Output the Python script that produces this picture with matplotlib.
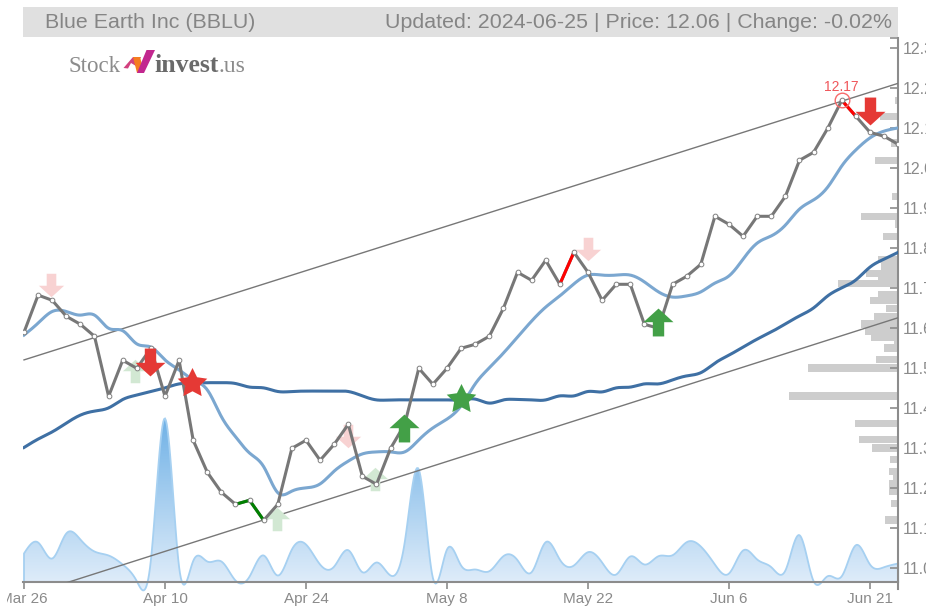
import numpy as np
import matplotlib
matplotlib.use("Agg")
import matplotlib.pyplot as plt
from matplotlib.path import Path
from matplotlib.patches import Polygon, Rectangle
from matplotlib.colors import LinearSegmentedColormap
from matplotlib.transforms import Bbox

plt.rcParams['font.family'] = ['Liberation Sans', 'DejaVu Sans']

date_labels = ["Mar 26", "Apr 10", "Apr 24", "May 8", "May 22", "Jun 6", "Jun 21"]
date_index = [0, 10, 20, 30, 40, 50, 60]
price_ticks = [12.3, 12.2, 12.1, 12.0, 11.9, 11.8, 11.7, 11.6, 11.5, 11.4, 11.3, 11.2, 11.1, 11.0]

price = [11.59, 11.683, 11.67, 11.63, 11.61, 11.58, 11.43, 11.52, 11.50, 11.55, 11.43, 11.52, 11.32,
         11.24, 11.19, 11.16, 11.17, 11.12, 11.16, 11.30, 11.32, 11.27, 11.31, 11.36, 11.23, 11.21,
         11.30, 11.36, 11.50, 11.46, 11.50, 11.55, 11.56, 11.58, 11.65, 11.74, 11.72, 11.77, 11.71,
         11.79, 11.74, 11.67, 11.71, 11.71, 11.61, 11.60, 11.71, 11.73, 11.76, 11.88, 11.86, 11.83,
         11.88, 11.88, 11.93, 12.02, 12.04, 12.10, 12.17, 12.13, 12.09, 12.08, 12.06]
ma_short = [11.583, 11.613, 11.642, 11.642, 11.633, 11.633, 11.60, 11.594, 11.561, 11.553, 11.521,
            11.496, 11.471, 11.446, 11.379, 11.329, 11.288, 11.254, 11.189, 11.193, 11.201, 11.211,
            11.243, 11.268, 11.286, 11.291, 11.291, 11.291, 11.321, 11.351, 11.373, 11.406, 11.461,
            11.501, 11.538, 11.578, 11.618, 11.653, 11.681, 11.711, 11.733, 11.733, 11.733, 11.733,
            11.716, 11.691, 11.678, 11.681, 11.691, 11.713, 11.731, 11.773, 11.813, 11.831, 11.858,
            11.898, 11.921, 11.953, 12.006, 12.046, 12.076, 12.093, 12.101]
ma_long = [11.302, 11.323, 11.341, 11.363, 11.383, 11.393, 11.401, 11.422, 11.433, 11.442, 11.451,
           11.461, 11.463, 11.464, 11.464, 11.462, 11.453, 11.451, 11.442, 11.442, 11.443, 11.443,
           11.443, 11.442, 11.431, 11.421, 11.421, 11.421, 11.421, 11.421, 11.421, 11.421, 11.423,
           11.413, 11.421, 11.422, 11.421, 11.421, 11.431, 11.431, 11.442, 11.441, 11.451, 11.453,
           11.461, 11.461, 11.471, 11.481, 11.489, 11.513, 11.533, 11.553, 11.573, 11.591, 11.611,
           11.631, 11.651, 11.681, 11.701, 11.721, 11.753, 11.773, 11.790]
volume = [28.5, 39.5, 23.5, 48.5, 42.5, 30.5, 26.5, 17.5, 0.8, 22, 163.5, 15, 21, 20.5, 20.5, 1.5,
          5.5, 26.5, 6.5, 32.5, 37.5, 17.5, 15.5, 31.8, 9.8, 19.5, 6.5, 39.5, 112.5, 4, 32.5, 16.5,
          12.5, 10.8, 25.8, 21.8, 9.8, 39.8, 22.5, 16.5, 29.8, 19.5, 7.5, 25.5, 17.5, 25.8, 26.8, 39.8,
          35.5, 17.5, 8.5, 31.5, 22.5, 14.8, 11.5, 46.8, 0.8, 5.8, 5.8, 36.8, 17.5, 14.8, 18.5]

profile_price = [12.17, 12.13, 12.063, 12.02, 11.93, 11.88, 11.861, 11.83, 11.772, 11.756, 11.738,
                 11.726, 11.712, 11.683, 11.67, 11.65, 11.63, 11.611, 11.592, 11.578, 11.567, 11.551,
                 11.522, 11.501, 11.431, 11.362, 11.322, 11.301, 11.272, 11.242, 11.227, 11.211,
                 11.193, 11.162, 11.121]
profile_size = [3, 18, 7, 23, 6, 37, 3, 15, 20, 17, 32, 20, 60, 20, 28, 12, 24, 37, 33, 27, 4, 14, 22,
                90, 109, 43, 39, 26, 8, 9, 5, 9, 9, 7, 13]

trend_up_x, trend_up_y = [0, 62], [11.521, 12.2125]
trend_low_x, trend_low_y = [3.03, 62], [10.964, 11.6265]

down_light_x, down_light_y = [1.91, 22.98, 40], [11.708, 11.331, 11.798]
up_light_x, up_light_y = [7.9, 17.94, 24.9], [11.493, 11.123, 11.223]
down_x, down_y = [8.94, 60], [11.516, 12.143]
up_x, up_y = [26.95, 44.96], [11.351, 11.616]
star_red_x, star_red_y = [11.95], [11.463]
star_green_x, star_green_y = [30.97], [11.423]
red_segments = [38, 58]
green_segments = [15, 16]
peak_index = 58

W, H = 926, 608
fig = plt.figure(figsize=(W / 100, H / 100), dpi=100, facecolor='white')
L, R, T, B = 23.0, 898.0, 38.0, 582.0
pos = [L / W, 1 - B / H, (R - L) / W, (B - T) / H]
xlim = ((L - 24) / 14.1, (R - 24) / 14.1)
ylim = (12.42075 - B / 400, 12.42075 - T / 400)
idx = np.arange(len(price))


def natural_spline(x, y, n=16):
    x, y = np.asarray(x, float), np.asarray(y, float)
    m = len(x)
    h = np.diff(x)
    A = np.zeros((m, m))
    b = np.zeros(m)
    A[0, 0] = A[-1, -1] = 1
    for i in range(1, m - 1):
        A[i, i - 1], A[i, i], A[i, i + 1] = h[i - 1], 2 * (h[i - 1] + h[i]), h[i]
        b[i] = 6 * ((y[i + 1] - y[i]) / h[i] - (y[i] - y[i - 1]) / h[i - 1])
    s = np.linalg.solve(A, b)
    xs = np.linspace(x[0], x[-1], (m - 1) * n + 1)
    k = np.clip(np.searchsorted(x, xs) - 1, 0, m - 2)
    t1, t0 = x[k + 1] - xs, xs - x[k]
    ys = (s[k] * t1 ** 3 + s[k + 1] * t0 ** 3) / (6 * h[k]) + (y[k] / h[k] - s[k] * h[k] / 6) * t1 + (
        y[k + 1] / h[k] - s[k + 1] * h[k] / 6) * t0
    return xs, ys


# volume layer
vax = fig.add_axes(pos, frameon=False)
vx, vy = natural_spline(idx, volume)
cmap = LinearSegmentedColormap.from_list('v', ['#e8f1fb', '#6fb1e6'])
grad = np.linspace(0, 1, 256).reshape(-1, 1)
im = vax.imshow(grad, extent=(xlim[0], xlim[1], -14, 165), origin='lower', aspect='auto', cmap=cmap, zorder=1)
poly = Polygon(np.column_stack([np.r_[vx, vx[-1], vx[0]], np.r_[vy, 0, 0]]), closed=True,
               transform=vax.transData, fill=False, edgecolor='#a6d0f1', linewidth=1.3, clip_on=False, zorder=2)
vax.add_patch(poly)
im.set_clip_box(fig.bbox)
im.set_clip_path(poly)
vax.set_xlim(xlim)
vax.set_ylim(0, B - T)
vax.axis('off')

# volume by price layer
pax = fig.add_axes(pos, frameon=False)
pax.barh(profile_price, profile_size, height=0.018, color='#cdcdcd', linewidth=0)
pax.set_xlim(R - L, 0)
pax.set_ylim(ylim)
pax.axis('off')

# main layer
ax = fig.add_axes(pos, facecolor='none')
ax.set_xlim(xlim)
ax.set_ylim(ylim)

ax.plot(trend_up_x, trend_up_y, color='#777777', lw=1.0, zorder=3)
ax.plot(trend_low_x, trend_low_y, color='#777777', lw=1.0, zorder=3)
ax.plot(*natural_spline(idx, ma_long), color='#34689f', lw=2.2, alpha=0.95, zorder=4)
ax.plot(*natural_spline(idx, ma_short), color='#7ba7d0', lw=2.2, zorder=4)

arrow = Path([(-.38, .93), (.38, .93), (.38, -.02), (1, -.02), (0, -.93), (-1, -.02), (-.38, -.02), (-.38, .93), (-.38, .93)],
             [1, 2, 2, 2, 2, 2, 2, 2, 79])
arrow_up = Path(arrow.vertices * [1, -1], arrow.codes)
theta = np.pi / 2 + np.arange(10) * np.pi / 5
radius = np.where(np.arange(10) % 2 == 0, 1.0, 0.5)
star_xy = np.column_stack([radius * np.cos(theta), radius * np.sin(theta)])
star = Path(np.vstack([star_xy, star_xy[:1]]), closed=True)
ax.scatter(down_light_x, down_light_y, marker=arrow, s=330, color='#f8d2d2', linewidths=0, zorder=3.5)
ax.scatter(up_light_x, up_light_y, marker=arrow_up, s=330, color='#d2e8d3', linewidths=0, zorder=3.5)

ax.plot(idx, price, color='#777777', lw=2.2, zorder=5, solid_joinstyle='round')
for i in red_segments:
    ax.plot(idx[i:i + 2], price[i:i + 2], color='#ff0000', lw=2.2, zorder=5.2)
for i in green_segments:
    ax.plot(idx[i:i + 2], price[i:i + 2], color='#008000', lw=2.2, zorder=5.2)
ax.plot(idx, price, ls='none', marker='o', ms=3.4, mfc='white', mec='#808080', mew=0.7, zorder=5.5)

ax.plot([idx[peak_index]], [price[peak_index]], marker='o', ms=10.5, mfc='none', mec='#f66a6a', mew=1.0,
        ls='none', zorder=6)
ax.annotate(f"{price[peak_index]:.2f}", (idx[peak_index], price[peak_index]), xytext=(0, 4.5),
            textcoords='offset points', ha='center', va='bottom', color='#f0565a', fontsize=10, zorder=6)

ax.scatter(down_x, down_y, marker=arrow, s=466, color='#e53935', linewidths=0, zorder=7)
ax.scatter(up_x, up_y, marker=arrow_up, s=466, color='#43a047', linewidths=0, zorder=7)
ax.scatter(star_red_x, star_red_y, marker=star, s=500, color='#e53935', linewidths=0, zorder=7)
ax.scatter(star_green_x, star_green_y, marker=star, s=500, color='#43a047', linewidths=0, zorder=7)

for s in ('left', 'top'):
    ax.spines[s].set_visible(False)
ax.spines['right'].set_color('#8c8c8c')
ax.spines['right'].set_linewidth(1.5)
ax.spines['bottom'].set_color('#8c8c8c')
ax.spines['bottom'].set_linewidth(1.5)

ax.yaxis.tick_right()
ax.set_yticks(price_ticks)
ax.set_yticklabels([f"{v:.1f}" for v in price_ticks])
ax.set_yticks([ylim[1]], minor=True)
ax.tick_params(axis='y', which='both', direction='in', length=5.5, width=1.2, color='#8c8c8c',
               labelcolor='#8a8a8a', labelsize=11.5, pad=3.5)
ax.set_xticks(date_index)
ax.set_xticklabels(date_labels)
ax.set_xticks([xlim[1]], minor=True)
ax.tick_params(axis='x', which='both', direction='out', length=5, width=1.2, color='#8c8c8c',
               labelcolor='#8a8a8a', labelsize=11, pad=2.5)
ax.spines['right'].set_bounds(ylim[0] - 0.017, ylim[1])
clip = Bbox([[7, 0], [W, H]])
for lab in ax.get_xticklabels():
    lab.set_clip_box(clip)
    lab.set_clip_on(True)

# header and logo, in pixel coordinates
top = fig.add_axes([0, 0, 1, 1], frameon=False)
top.set_xlim(0, W)
top.set_ylim(H, 0)
top.axis('off')
top.add_patch(Rectangle((L, 7), R - L, 30, facecolor='#e0e0e0', edgecolor='none', zorder=0))
top.text(45, 22.5, "Blue Earth Inc (BBLU)", fontsize=15.4, color='#858585', va='center', ha='left')
top.text(892, 22.5, "Updated: 2024-06-25 | Price: 12.06 | Change: -0.02%", fontsize=15.4, color='#858585',
         va='center', ha='right')
top.text(68, 72, "Stock", family='Liberation Serif', fontsize=16.5, color='#8c8c8c', va='baseline')
top.text(154, 72, "invest", family='Liberation Serif', fontweight='bold', fontsize=18.5, color='#6a6a6a', va='baseline')
top.text(218, 72, ".us", family='Liberation Serif', fontsize=17, color='#8c8c8c', va='baseline')
top.add_patch(Polygon([(123.5, 68), (133, 57), (141, 57), (136, 66), (131, 63), (128, 68.5)], facecolor='#d2417f', edgecolor='none'))
top.add_patch(Polygon([(133, 57), (140, 57), (144, 72), (137, 73)], facecolor='#f57c20', edgecolor='none'))
top.add_patch(Polygon([(146.5, 50), (155, 50), (144, 73), (137, 73)], facecolor='#c2278f', edgecolor='none'))

fig.savefig('out.png', dpi=100)
